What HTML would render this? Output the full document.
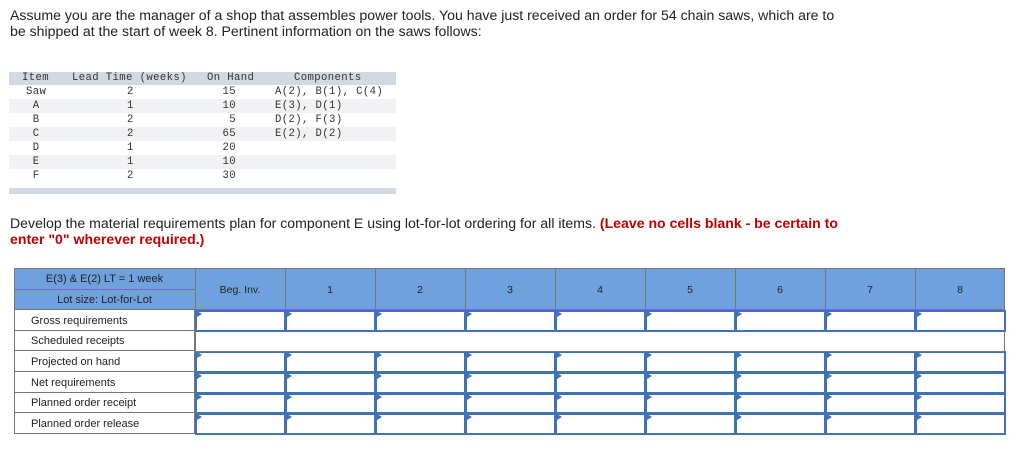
<!DOCTYPE html>
<html><head><meta charset="utf-8"><style>
body{margin:0;width:1019px;height:453px;background:#fff;position:relative;font-family:"Liberation Sans",sans-serif;color:#222;overflow:hidden}
.p{position:absolute;font-size:14.1px;line-height:16px;left:10px}
.m{position:absolute;font-family:"Liberation Mono",monospace;font-size:10.6px;line-height:14px;color:#333;letter-spacing:0.4px;white-space:pre}
.r{position:absolute;left:9px;width:387px;height:14px}
.c{position:absolute;box-sizing:border-box}
.lab{position:absolute;left:14px;width:181px;box-sizing:border-box;border:1px solid #777;border-top:none;font-size:11px;padding-left:16px;background:#fff}
.in{position:absolute;box-sizing:border-box;border:2px solid #3f73b6;background:#fff}
.in:before{content:"";position:absolute;left:0;top:0;border-left:5px solid #3f73b6;border-top:3px solid transparent;border-bottom:3px solid transparent;top:-1px}
</style></head><body>
<div class="p" style="top:7px">Assume you are the manager of a shop that assembles power tools. You have just received an order for 54 chain saws, which are to<br>be shipped at the start of week 8. Pertinent information on the saws follows:</div>

<div class="r" style="top:72px;height:13px;background:#d3d9e2"></div>
<div class="r" style="top:99px;background:#f1f2f4"></div>
<div class="r" style="top:127px;background:#f1f2f4"></div>
<div class="r" style="top:155px;background:#f1f2f4"></div>
<div class="r" style="top:188px;height:6px;background:#d3d9e2"></div>
<div class="m" style="top:71px;left:22px">Item</div>
<div class="m" style="top:71px;left:72px">Lead Time (weeks)</div>
<div class="m" style="top:71px;left:207px">On Hand</div>
<div class="m" style="top:71px;left:294px">Components</div>
<div class="m" style="top:85px;left:26px">Saw
 A
 B
 C
 D
 E
 F</div>
<div class="m" style="top:85px;left:127px">2
1
2
2
1
1
2</div>
<div class="m" style="top:85px;left:220px;text-align:right;width:16px">15
10
5
65
20
10
30</div>
<div class="m" style="top:85px;left:275px">A(2), B(1), C(4)
E(3), D(1)
D(2), F(3)
E(2), D(2)</div>

<div class="p" style="top:215px">Develop the material requirements plan for component E using lot-for-lot ordering for all items. <b style="color:#c00000">(Leave no cells blank - be certain to<br>enter "0" wherever required.)</b></div>

<div class="c" style="left:14px;top:268px;width:991px;height:42px;background:#6ea1de;border:1px solid #777"></div>
<div class="c" style="left:14px;top:289px;width:181px;height:1px;background:#777"></div>
<div style="position:absolute;left:14px;width:181px;top:273px;text-align:center;font-size:11px">E(3) &amp; E(2) LT = 1 week</div>
<div style="position:absolute;left:14px;width:181px;top:294px;text-align:center;font-size:11px">Lot size: Lot-for-Lot</div>
<div id="hdr"></div>
<div class="c" style="left:195px;top:331px;width:810px;height:21px;border:1px solid #777;border-top:none"></div>
<script>
var cols=["Beg. Inv.","1","2","3","4","5","6","7","8"],h="";
for(var i=0;i<9;i++){var x=195+i*90;
h+='<div class="c" style="left:'+x+'px;top:268px;width:1px;height:42px;background:#777"></div>';
h+='<div style="position:absolute;left:'+x+'px;width:90px;top:284px;text-align:center;font-size:10.5px">'+cols[i]+'</div>';}
var rows=["Gross requirements","Scheduled receipts","Projected on hand","Net requirements","Planned order receipt","Planned order release"];
var ys=[310,331,351,372,393,413,434];
for(var r=0;r<6;r++){var y=ys[r],hh=ys[r+1]-y;
h+='<div class="lab" style="top:'+y+'px;height:'+hh+'px;line-height:'+(hh+1)+'px">'+rows[r]+'</div>';
if(r!=1)for(var i=0;i<9;i++)h+='<div class="in" style="left:'+(195+i*90)+'px;top:'+y+'px;width:91px;height:'+(hh+1)+'px"></div>';}
document.getElementById("hdr").innerHTML=h;
</script>
</body></html>
